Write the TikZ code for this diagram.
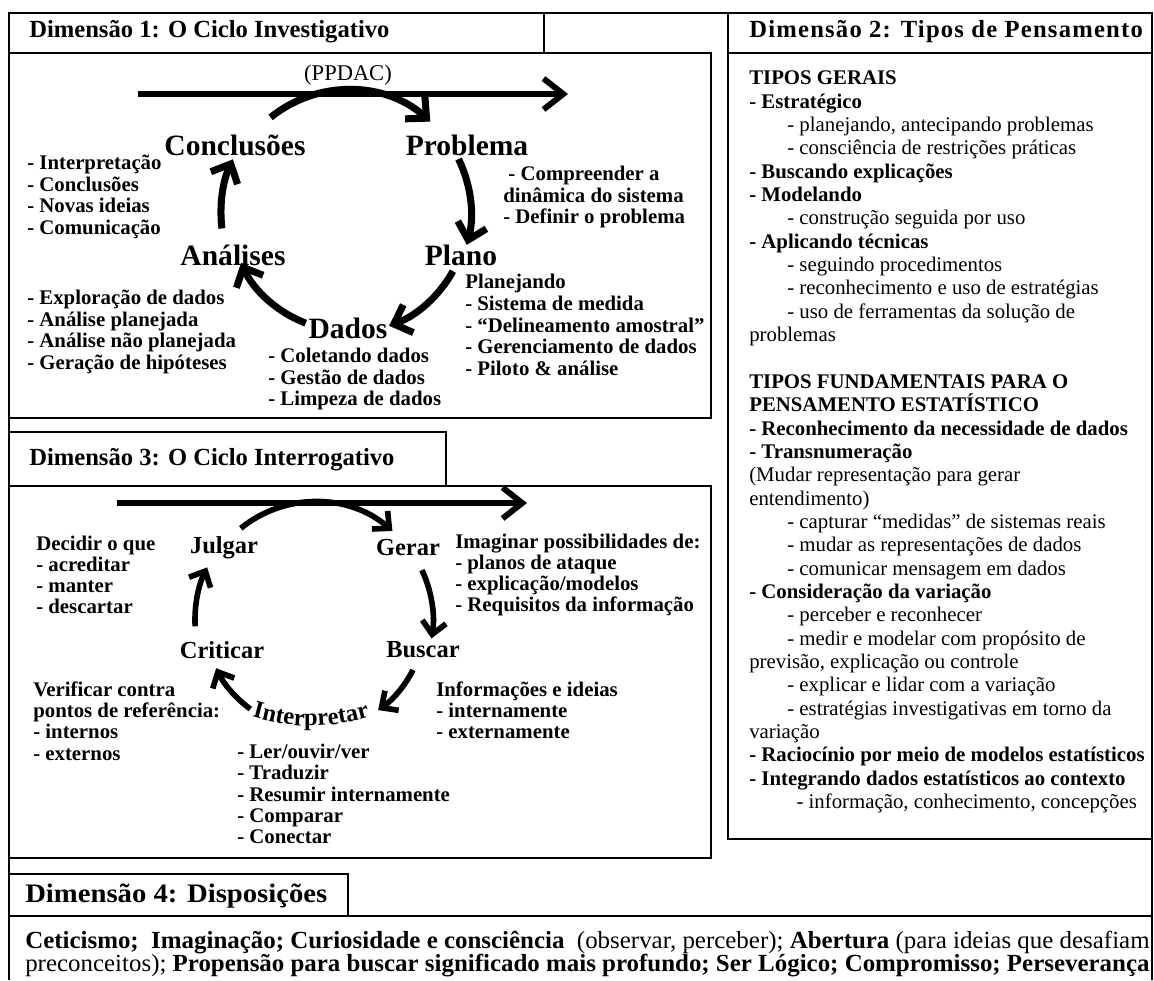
\documentclass[tikz,border=0pt]{standalone}
\usepackage{graphicx}
\usepackage{fontspec}
\setmainfont{Liberation Serif}
\usetikzlibrary{arrows.meta,calc,decorations.text}

\newcommand\dimfont{\fontsize{17.5}{17.5}\selectfont\bfseries}
\newcommand\dimwidefont{\fontsize{17.5}{17.5}\selectfont\bfseries\addfontfeature{LetterSpace=5}}
\newcommand\stageAfont{\fontsize{21}{21}\selectfont\bfseries}
\newcommand\stageBfont{\fontsize{17.4}{17.4}\selectfont\bfseries}
\newcommand\listAfont{\fontsize{14.8}{15.4}\selectfont\bfseries}
\newcommand\listBfont{\fontsize{14.8}{15.1}\selectfont\bfseries}
\newcommand\tiposfont{\fontsize{14.8}{16.6}\selectfont}
\newcommand\dispfont{\fontsize{17.5}{20}\selectfont}
\newcommand\ind{\hspace*{0.95cm}}

\begin{document}
\begin{tikzpicture}[x=0.025cm,y=0.025cm,
  outer/.style={line width=2pt},
  box/.style={line width=1.4pt},
  longarrow/.style={line width=4.2pt,-{Straight Barb[length=14pt,width=22pt]}},
  cycA/.style={line width=5pt,-{Straight Barb[length=11pt,width=21pt]}},
  cycB/.style={line width=4pt,-{Straight Barb[length=9pt,width=17pt]}},
  stageA/.style={font=\stageAfont,inner sep=0pt},
  stageB/.style={font=\stageBfont,inner sep=0pt},
  lista/.style={font=\listAfont,align=left,anchor=west,inner sep=0pt},
  listb/.style={font=\listBfont,align=left,anchor=west,inner sep=0pt},
  dimhead/.style={font=\dimfont,anchor=west,inner sep=0pt}]

  \useasboundingbox (0,0) rectangle (1154,-980);

  % frames
  \draw[outer] (9,-980) -- (9,-13) -- (1152,-13) -- (1152,-980);
  \draw[box] (9,-53) rectangle (711,-418);
  \draw[box] (544,-13) -- (544,-53);
  \draw[box] (728,-13) -- (728,-839) -- (1152,-839);
  \draw[box] (728,-53) -- (1152,-53);
  \draw[box] (9,-432) rectangle (446,-486);
  \draw[box] (9,-486) rectangle (711,-858);
  \draw[box] (9,-874) rectangle (348,-916);
  \draw[box] (9,-916) -- (1152,-916);

  % headers
  \node[dimhead] (head1) at (29,-32) {Dimensão 1: O Ciclo Investigativo};
  \node[dimhead,font=\dimwidefont] (head2) at (749,-32) {Dimensão 2: Tipos de Pensamento};
  \node[dimhead] (head3) at (29,-460) {Dimensão 3: O Ciclo Interrogativo};
  \node[font=\fontsize{19}{19}\selectfont\bfseries,anchor=west,inner sep=0pt] (head4) at (25,-896)
    {\resizebox{7.55cm}{\height}{Dimensão 4: Disposições}};

  % dimensao 1
  \node[font=\fontsize{16}{16}\selectfont,inner sep=0pt] (ppdac) at (348,-75) {(PPDAC)};
  \coordinate (ta) at (138,-94);
  \coordinate (tb) at (568,-94);
  \draw[longarrow] (ta) -- (tb);

  \node[stageA] (concl) at (235,-145) {Conclusões};
  \node[stageA] (probl) at (467,-145) {Problema};
  \node[stageA] (plano) at (461,-255) {Plano};
  \node[stageA] (anali) at (233,-255) {Análises};
  \node[stageA] (dados) at (348,-328) {Dados};

  \coordinate (c1) at (348,-213);
  \draw[cycA] ([shift={(129:123)}]c1) arc[start angle=129,end angle=48,radius=123];
  \draw[cycA] ([shift={(26:123)}]c1) arc[start angle=26,end angle=-15,radius=123];
  \draw[cycA] ([shift={(-29:120)}]c1) arc[start angle=-29,end angle=-70,radius=120];
  \draw[cycA] ([shift={(-111:118)}]c1) arc[start angle=-111,end angle=-155,radius=118];
  \draw[cycA] ([shift={(187:127)}]c1) arc[start angle=187,end angle=155,radius=127];

  \node[lista] (concl-l) at (27,-197) {- Interpretação\\- Conclusões\\- Novas ideias\\- Comunicação};
  \node[lista] (probl-l) at (503,-197) {\ - Compreender a\\dinâmica do sistema\\- Definir o problema};
  \node[lista] (plano-l) at (465,-325) {Planejando\\- Sistema de medida\\- “Delineamento amostral”\\- Gerenciamento de dados\\- Piloto \& análise};
  \node[lista] (anali-l) at (27,-332) {- Exploração de dados\\- Análise planejada\\- Análise não planejada\\- Geração de hipóteses};
  \node[lista] (dados-l) at (268,-379) {- Coletando dados\\- Gestão de dados\\- Limpeza de dados};

  % dimensao 2
  \node[font=\tiposfont,align=left,anchor=west,inner sep=0pt] (tipos) at (749,-442) {%
    \textbf{TIPOS GERAIS}\\
    \textbf{- Estratégico}\\
    \ind - planejando, antecipando problemas\\
    \ind - consciência de restrições práticas\\
    \textbf{- Buscando explicações}\\
    \textbf{- Modelando}\\
    \ind - construção seguida por uso\\
    \textbf{- Aplicando técnicas}\\
    \ind - seguindo procedimentos\\
    \ind - reconhecimento e uso de estratégias\\
    \ind - uso de ferramentas da solução de\\
    problemas\\[16.6pt]
    \textbf{TIPOS FUNDAMENTAIS PARA O}\\
    \textbf{PENSAMENTO ESTATÍSTICO}\\
    \textbf{- Reconhecimento da necessidade de dados}\\
    \textbf{- Transnumeração}\\
    (Mudar representação para gerar\\
    entendimento)\\
    \ind - capturar “medidas” de sistemas reais\\
    \ind - mudar as representações de dados\\
    \ind - comunicar mensagem em dados\\
    \textbf{- Consideração da variação}\\
    \ind - perceber e reconhecer\\
    \ind - medir e modelar com propósito de\\
    previsão, explicação ou controle\\
    \ind - explicar e lidar com a variação\\
    \ind - estratégias investigativas em torno da\\
    variação\\
    \textbf{- Raciocínio por meio de modelos estatísticos}\\
    \textbf{- Integrando dados estatísticos ao contexto}\\
    \hspace*{1.05cm} - informação, conhecimento, concepções};

  % dimensao 3
  \coordinate (tc) at (117,-503);
  \coordinate (td) at (527,-503);
  \draw[longarrow] (tc) -- (td);

  \node[stageB] (julgar) at (224,-548) {Julgar};
  \node[stageB] (gerar) at (408,-548) {Gerar};
  \node[stageB] (criticar) at (222,-650) {Criticar};
  \node[stageB] (buscar) at (423,-650) {Buscar};
  \coordinate (interp) at (311,-717);
  \path[decorate,decoration={text along path,text align=center,
      text={|\stageBfont|Interpretar}}]
    (250,-716) to[bend right=16] (372,-716);

  \coordinate (c3) at (315,-620);
  \draw[cycB] ([shift={(129:118)}]c3) arc[start angle=129,end angle=49,radius=118];
  \draw[cycB] ([shift={(25:118)}]c3) arc[start angle=25,end angle=-9,radius=118];
  \draw[cycB] ([shift={(-27:110)}]c3) arc[start angle=-27,end angle=-55,radius=110];
  \draw[cycB] ([shift={(-126:110)}]c3) arc[start angle=-126,end angle=-154,radius=110];
  \draw[cycB] ([shift={(183:120)}]c3) arc[start angle=183,end angle=154,radius=120];

  \node[listb] (julgar-l) at (36,-575) {Decidir o que\\- acreditar\\- manter\\- descartar};
  \node[listb] (gerar-l) at (455,-575) {Imaginar possibilidades de:\\- planos de ataque\\- explicação/modelos\\- Requisitos da informação};
  \node[listb] (criticar-l) at (33,-721) {Verificar contra\\pontos de referência:\\- internos\\- externos};
  \node[listb] (buscar-l) at (436,-710) {Informações e ideias\\- internamente\\- externamente};
  \node[listb] (interp-l) at (237,-794) {- Ler/ouvir/ver\\- Traduzir\\- Resumir internamente\\- Comparar\\- Conectar};

  % dimensao 4
  \node[font=\dispfont,anchor=west,inner sep=0pt] (disp1) at (25,-943)
    {\resizebox{28.1cm}{\height}{\textbf{Ceticismo;\ \ Imaginação; Curiosidade e consciência}\ \ (observar, perceber); \textbf{Abertura} (para ideias que desafiam}};
  \node[font=\dispfont,anchor=west,inner sep=0pt] (disp2) at (25,-966)
    {\resizebox{28.1cm}{\height}{preconceitos); \textbf{Propensão para buscar significado mais profundo; Ser Lógico; Compromisso; Perseverança}}};
\end{tikzpicture}
\end{document}
